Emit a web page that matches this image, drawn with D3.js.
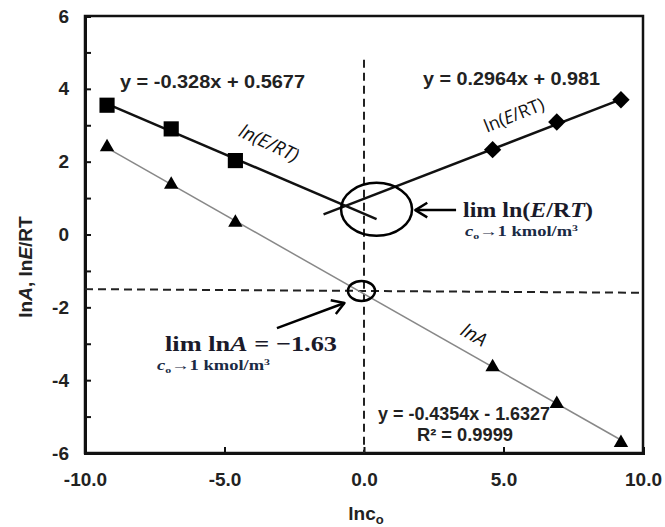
<!DOCTYPE html>
<html><head><meta charset="utf-8">
<script src="https://cdn.jsdelivr.net/npm/d3@7"></script>
<style>body{margin:0;background:#fff}svg{display:block}</style>
</head><body>
<script>
// ---- data ----
const xLeft = [-9.21, -6.91, -4.61];
const xRight = [4.61, 6.91, 9.21];
const lnERTLeft = [3.55, 2.90, 2.03];
const lnERTRight = [2.33, 3.09, 3.70];
const xAll = [-9.21, -6.91, -4.61, 4.61, 6.91, 9.21];
const lnA = [2.40, 1.37, 0.33, -3.64, -4.65, -5.72];
const fitSlopes = [-0.328, 0.2964, -0.4354];
const fitIntercepts = [0.5677, 0.981, -1.6327];
const fitFrom = [-9.21, -1.45, -9.21];
const fitTo = [0.45, 9.21, 9.21];
const xTicks = [-10, -5, 0, 5, 10];
const yTicks = [-6, -5, -4, -3, -2, -1, 0, 1, 2, 3, 4, 5, 6];
const yLabelTicks = [-6, -4, -2, 0, 2, 4, 6];
const limA = -1.63;

const W = 665, H = 527;
const L = 85, T = 16, R = 643, B = 453;
const svg = d3.select("body").append("svg").attr("width", W).attr("height", H);
const x = d3.scaleLinear().domain([-10, 10]).range([L, R]);
const y = d3.scaleLinear().domain([-6, 6]).range([B, T]);
const sans = "'Liberation Sans', Arial, sans-serif";
const serif = "'Liberation Serif', 'Times New Roman', serif";

// frame
svg.append("rect").attr("x", L).attr("y", T).attr("width", R - L).attr("height", B - T)
  .attr("fill", "none").attr("stroke", "#111").attr("stroke-width", 2.5);

// y axis
const yAx = svg.append("g").attr("transform", `translate(${L},0)`)
  .call(d3.axisLeft(y).tickValues(yTicks).tickSize(-6).tickPadding(16)
    .tickFormat(d => yLabelTicks.includes(d) ? String(d) : ""));
yAx.select(".domain").attr("stroke", "#111").attr("stroke-width", 3);
yAx.selectAll(".tick line").attr("stroke", "#111").attr("stroke-width", 2);
yAx.selectAll("text").attr("font-family", sans).attr("font-weight", "bold")
  .attr("font-size", 19).attr("fill", "#222");

// x axis
const xAx = svg.append("g").attr("transform", `translate(0,${B})`)
  .call(d3.axisBottom(x).tickValues(xTicks).tickSize(-6).tickPadding(20)
    .tickFormat(d => d.toFixed(1)));
xAx.select(".domain").attr("stroke", "#111").attr("stroke-width", 3);
xAx.selectAll(".tick line").attr("stroke", "#111").attr("stroke-width", 2);
xAx.selectAll("text").attr("font-family", sans).attr("font-weight", "bold")
  .attr("font-size", 19).attr("fill", "#222");

// axis titles
const yt = svg.append("text").attr("transform", "translate(32,267) rotate(-90)")
  .attr("text-anchor", "middle").attr("font-family", sans).attr("font-weight", "bold")
  .attr("font-size", 19).attr("fill", "#222");
yt.append("tspan").text("ln");
yt.append("tspan").attr("font-style", "italic").text("A");
yt.append("tspan").text(", ln");
yt.append("tspan").attr("font-style", "italic").text("E");
yt.append("tspan").text("/RT");

const xt = svg.append("text").attr("x", 366).attr("y", 520).attr("text-anchor", "middle")
  .attr("font-family", sans).attr("font-weight", "bold").attr("font-size", 19).attr("fill", "#222");
xt.append("tspan").text("lnc");
xt.append("tspan").attr("font-size", 13).attr("dy", 4).text("o");

// dashed reference lines
svg.append("line").attr("x1", x(0)).attr("x2", x(0)).attr("y1", y(4.8)).attr("y2", y(-6))
  .attr("stroke", "#222").attr("stroke-width", 2).attr("stroke-dasharray", "8,5");
svg.append("line").attr("x1", x(-10)).attr("x2", x(10)).attr("y1", y(-1.5)).attr("y2", y(-1.6))
  .attr("stroke", "#222").attr("stroke-width", 2).attr("stroke-dasharray", "8,5");

// fitted lines
const fitStroke = ["#111", "#111", "#888"];
const fitWidth = [2.5, 2.5, 1.5];
fitSlopes.forEach((m, i) => {
  const f = v => m * v + fitIntercepts[i];
  svg.append("line").attr("x1", x(fitFrom[i])).attr("y1", y(f(fitFrom[i])))
    .attr("x2", x(fitTo[i])).attr("y2", y(f(fitTo[i])))
    .attr("stroke", fitStroke[i]).attr("stroke-width", fitWidth[i]);
});

// markers
svg.selectAll(".sq").data(xLeft).enter().append("path")
  .attr("d", d3.symbol().type(d3.symbolSquare).size(230))
  .attr("transform", (d, i) => `translate(${x(d)},${y(lnERTLeft[i])})`).attr("fill", "#000");
svg.selectAll(".dm").data(xRight).enter().append("path")
  .attr("d", d3.symbol().type(d3.symbolSquare).size(150))
  .attr("transform", (d, i) => `translate(${x(d)},${y(lnERTRight[i])}) rotate(45)`).attr("fill", "#000");
svg.selectAll(".tr").data(xAll).enter().append("path")
  .attr("d", d3.symbol().type(d3.symbolTriangle).size(90))
  .attr("transform", (d, i) => `translate(${x(d)},${y(lnA[i])})`).attr("fill", "#000");

// ellipses
svg.append("ellipse").attr("cx", x(0.45)).attr("cy", y(0.69)).attr("rx", 35.5).attr("ry", 26.5)
  .attr("fill", "none").attr("stroke", "#000").attr("stroke-width", 2.5);
svg.append("ellipse").attr("cx", x(-0.09)).attr("cy", y(limA + 0.08)).attr("rx", 13.5).attr("ry", 10)
  .attr("fill", "none").attr("stroke", "#000").attr("stroke-width", 2.5);

// arrows
function arrow(x1, y1, x2, y2) {
  svg.append("line").attr("x1", x1).attr("y1", y1).attr("x2", x2).attr("y2", y2)
    .attr("stroke", "#000").attr("stroke-width", 2.5);
  const a = Math.atan2(y2 - y1, x2 - x1), len = 14, sp = 0.55;
  const p = [[x2 - len * Math.cos(a - sp), y2 - len * Math.sin(a - sp)], [x2, y2],
             [x2 - len * Math.cos(a + sp), y2 - len * Math.sin(a + sp)]];
  svg.append("path").attr("d", d3.line()(p)).attr("fill", "none")
    .attr("stroke", "#000").attr("stroke-width", 2.5).attr("stroke-linejoin", "round");
}
arrow(x(3.3), y(0.67), x(1.84), y(0.67));
arrow(x(-3.12), y(-2.57), x(-0.7), y(-1.88));

// equation labels
function eq(txt, cx, by, size, len) {
  svg.append("text").attr("x", cx).attr("y", by).attr("font-family", sans)
    .attr("font-weight", "bold").attr("font-size", size).attr("fill", "#222")
    .attr("textLength", len).attr("lengthAdjust", "spacingAndGlyphs").text(txt);
}
eq("y = -0.328x + 0.5677", 120, 88, 18.5, 185);
eq("y = 0.2964x + 0.981", 423, 85, 18.5, 177);
eq("y = -0.4354x - 1.6327", 378, 420, 17.5, 172);
eq("R² = 0.9999", 417, 441, 17.5, 96);

// curve labels
function rotLabel(parts, cx, cy, ang, size) {
  const t = svg.append("text").attr("transform", `translate(${cx},${cy}) rotate(${ang})`)
    .attr("text-anchor", "middle").attr("font-family", "'Open Sans', 'Noto Sans', sans-serif")
    .attr("font-size", size).attr("fill", "#111").attr("dy", "0.35em");
  parts.forEach(p => t.append("tspan").attr("font-style", p[1] ? "italic" : "normal").text(p[0]));
}
rotLabel([["ln(", 1], ["E", 1], ["/", 1], ["RT", 1], [")", 1]], 269, 143, 25, 19);
rotLabel([["ln(", 0], ["E", 1], ["/RT)", 0]], 514, 115, -22, 18);
rotLabel([["lnA", 1]], 474, 335, 30, 19);

// limit annotations
function limText(parts, lx, by, len, size) {
  const t = svg.append("text").attr("x", lx).attr("y", by).attr("font-family", serif)
    .attr("font-weight", "bold").attr("font-size", size).attr("fill", "#1a1a2a")
    .attr("textLength", len).attr("lengthAdjust", "spacingAndGlyphs");
  parts.forEach(p => t.append("tspan").attr("font-style", p[1] ? "italic" : "normal").text(p[0]));
}
function subText(lx, by, len) {
  const t = svg.append("text").attr("x", lx).attr("y", by).attr("font-family", serif)
    .attr("font-weight", "bold").attr("font-size", 14).attr("fill", "#1a2a44")
    .attr("textLength", len).attr("lengthAdjust", "spacingAndGlyphs");
  t.append("tspan").attr("font-style", "italic").text("c");
  t.append("tspan").attr("font-size", 9).attr("dy", 3).text("o");
  t.append("tspan").attr("dy", -3).text("→1 kmol/m");
  t.append("tspan").attr("font-size", 9).attr("dy", -5).text("3");
}
limText([["lim ln(", 0], ["E", 1], ["/R", 0], ["T", 1], [")", 0]], 463, 217, 130, 22);
subText(465, 236, 113);
limText([["lim ln", 0], ["A", 1], [" = −1.63", 0]], 165, 351, 172, 22);
subText(157, 370, 113);
</script>
</body></html>
